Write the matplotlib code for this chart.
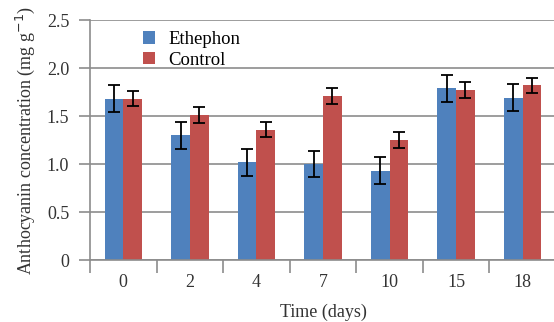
import numpy as np
import matplotlib
matplotlib.use("Agg")
import matplotlib.pyplot as plt

# data
days = ["0", "2", "4", "7", "10", "15", "18"]
ethephon = [1.68, 1.30, 1.02, 1.00, 0.93, 1.79, 1.69]
ethephon_err = [0.14, 0.14, 0.14, 0.14, 0.14, 0.14, 0.14]
control = [1.68, 1.51, 1.36, 1.71, 1.25, 1.77, 1.82]
control_err = [0.08, 0.08, 0.08, 0.08, 0.08, 0.08, 0.08]
yticks = [0, 0.5, 1.0, 1.5, 2.0, 2.5]
ytick_labels = ["0", "0.5", "1.0", "1.5", "2.0", "2.5"]

plt.rcParams['font.family'] = ['Liberation Serif', 'DejaVu Serif']

fig = plt.figure(figsize=(5.54, 3.22), dpi=100)
ax = fig.add_axes([0.1625, 0.1925, 0.841, 0.745])

x = np.arange(len(days))
w = 0.28
grid_col = "#8c8c8c"
txt_col = "#333333"

b1 = ax.bar(x - w / 2, ethephon, w, color="#4F81BD", label="Ethephon", zorder=2)
b2 = ax.bar(x + w / 2, control, w, color="#C0504D", label="Control", zorder=2)
ax.errorbar(x - w / 2, ethephon, yerr=ethephon_err, fmt="none", ecolor="black",
            elinewidth=1.3, capsize=4, capthick=1.3, zorder=3)
ax.errorbar(x + w / 2, control, yerr=control_err, fmt="none", ecolor="black",
            elinewidth=1.3, capsize=4, capthick=1.3, zorder=3)

ax.set_xlim(-0.5, 6.5)
ax.set_ylim(0, 2.5)
ax.set_yticks(yticks)
ax.set_yticklabels(ytick_labels, fontsize=13, color=txt_col)
ax.yaxis.grid(True, color=grid_col, linewidth=1.2, zorder=0)
ax.set_axisbelow(True)

# category labels centred, tick marks on the category boundaries
ax.set_xticks(x)
ax.set_xticklabels(days, fontsize=13, color=txt_col)
ax.set_xticks(np.arange(-0.5, 7, 1), minor=True)
ax.tick_params(axis="x", which="major", length=0, pad=10)
ax.tick_params(axis="x", which="minor", length=9, width=1.2, color=grid_col)
ax.tick_params(axis="y", length=8, width=1.2, color=grid_col, pad=7)

for s in ["top", "right"]:
    ax.spines[s].set_visible(False)
for s in ["left", "bottom"]:
    ax.spines[s].set_color(grid_col)
    ax.spines[s].set_linewidth(1.2)

ax.set_xlabel("Time (days)", fontsize=13, color=txt_col, labelpad=9)
ax.set_ylabel("Anthocyanin concentration (mg g$^{-1}$)", fontsize=13,
              color=txt_col, labelpad=7)

ax.legend(handles=[b1, b2], loc="upper left", bbox_to_anchor=(0.113, 0.955),
          frameon=False, fontsize=13.5, handlelength=0.65, handleheight=0.65,
          handletextpad=0.7, labelspacing=0.2, borderpad=0, borderaxespad=0)

fig.savefig("out.png", dpi=100)
